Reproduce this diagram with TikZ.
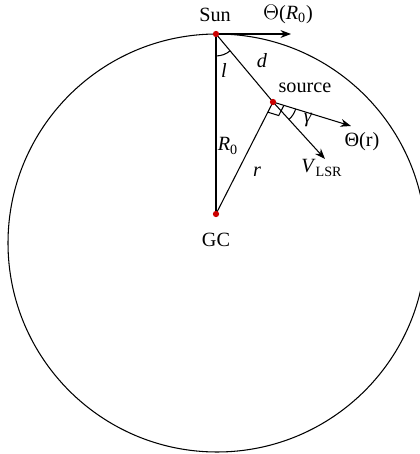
\documentclass[tikz,border=0pt]{standalone}
\usepackage{fontspec}
\setmainfont{Liberation Serif}
\usetikzlibrary{angles, arrows.meta}

\begin{document}
\begin{tikzpicture}[>={Stealth[length=6pt,width=4.5pt]}, x=0.02cm, y=0.02cm, line width=0.6pt,
    lbl/.style={font=\fontsize{11.5}{13}\selectfont, inner sep=1pt},
    dot/.style={fill=red!80!black}]
        \useasboundingbox (0,0) rectangle (420,454);

        % Points
        \coordinate (sun) at (216,420);
        \coordinate (src) at (273,352);
        \coordinate (gc)  at (216,240);
        \coordinate (tR0) at (291,420);
        \coordinate (tr)  at (351,328);
        \coordinate (tv)  at (325,295);

        % Galactic circle
        \draw (217,211) circle (209);

        % Lines
        \draw (sun) -- (gc);
        \draw (sun) -- (src);
        \draw (gc) -- (src);

        % Velocity vectors
        \draw[->] (sun) -- (tR0);
        \draw[->] (src) -- (tr);
        \draw[->] (src) -- (tv);

        % Angles
        \pic[draw, angle radius=12.5pt] {angle = gc--sun--src};
        \pic[draw, angle radius=13.5pt] {angle = tv--src--tr};
        \pic[draw, angle radius=6.5pt] {right angle = gc--src--tr};

        % Dots
        \fill[dot] (sun) circle (1.8pt);
        \fill[dot] (src) circle (1.8pt);
        \fill[dot] (gc) circle (1.8pt);

        % Labels
        \node[lbl] (lsun) at (215,439) {Sun};
        \node[lbl] (ltR0) at (288,440) {$\Theta$(\textit{R}\textsubscript{0})};
        \node[lbl] (ll) at (224,384) {\textit{l}};
        \node[lbl] (ld) at (262,393) {\textit{d}};
        \node[lbl] (lsrc) at (305,366) {source};
        \node[lbl] (lgam) at (308,334) {\textit{γ}};
        \node[lbl] (ltr) at (362,312) {Θ(r)};
        \node[lbl] (ltv) at (322,286) {\textit{V}\textsubscript{LSR}};
        \node[lbl] (lR0) at (228,308) {\textit{R}\textsubscript{0}};
        \node[lbl] (lr) at (257,282) {\textit{r}};
        \node[lbl] (lgc) at (216,214) {GC};
    \end{tikzpicture}
\end{document}
